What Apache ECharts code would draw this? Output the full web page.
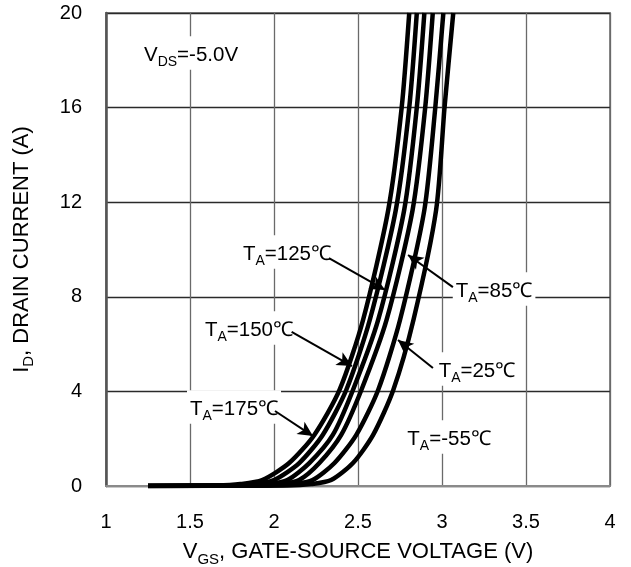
<!DOCTYPE html>
<html>
<head>
<meta charset="utf-8">
<script src="https://cdn.jsdelivr.net/npm/echarts@6/dist/echarts.min.js"></script>
<style>
  html, body { margin: 0; padding: 0; background: #fff; }
  #chart { width: 631px; height: 567px; }
</style>
</head>
<body>
<div id="chart"></div>
<script>
// ---- data ----
var X_TICKS = [1, 1.5, 2, 2.5, 3, 3.5, 4];
var Y_TICKS = [0, 4, 8, 12, 16, 20];
// drain current levels (A) at which each curve's gate voltage was read
var I_LEVELS = [0, 0.02, 0.08, 0.25, 0.97, 2.16, 4.06, 7.02, 11.67, 16, 20];
// gate-source voltage (V) of each curve at those current levels
var V_175 = [1.25, 1.66, 1.80, 1.93, 2.09, 2.24, 2.39, 2.53, 2.68, 2.76, 2.805];
var V_150 = [1.25, 1.74, 1.89, 2.00, 2.15, 2.29, 2.43, 2.57, 2.725, 2.805, 2.85];
var V_125 = [1.25, 1.82, 1.97, 2.08, 2.21, 2.35, 2.47, 2.62, 2.775, 2.85, 2.895];
var V_85 = [1.25, 1.90, 2.04, 2.15, 2.27, 2.40, 2.52, 2.67, 2.825, 2.90, 2.945];
var V_25 = [1.25, 1.98, 2.12, 2.23, 2.36, 2.49, 2.62, 2.75, 2.895, 2.96, 3.008];
var V_M55 = [1.25, 2.08, 2.22, 2.34, 2.47, 2.59, 2.71, 2.83, 2.965, 3.015, 3.067];
var CURVE_NAMES = ['175', '150', '125', '85', '25', '-55'];

// annotation text + anchor (data coords)
var NOTE_TEXT = ['{t|V}{s|DS}{t|=-5.0V}', '{t|T}{s|A}{t|=175℃}', '{t|T}{s|A}{t|=150℃}', '{t|T}{s|A}{t|=125℃}',
                 '{t|T}{s|A}{t|=85℃}', '{t|T}{s|A}{t|=25℃}', '{t|T}{s|A}{t|=-55℃}'];
var NOTE_V = [1.506, 1.762, 1.851, 2.077, 3.310, 3.208, 3.042];
var NOTE_I = [18.31, 3.34, 6.68, 9.89, 8.33, 4.95, 2.07];
// arrows: start (V,I) -> tip (V,I)
var ARROW_V0 = [2.006, 2.105, 2.327, 3.065, 2.946];
var ARROW_I0 = [3.17, 6.52, 9.64, 8.41, 4.99];
var ARROW_V1 = [2.232, 2.464, 2.661, 2.798, 2.738];
var ARROW_I1 = [2.11, 5.07, 8.29, 9.77, 6.17];

// ---- build ----
var FONT = 'Liberation Sans, Arial, sans-serif';
var curves = [V_175, V_150, V_125, V_85, V_25, V_M55];
function makeRich(size) {
  return {
    t: { fontSize: size, fontFamily: FONT, color: '#000', lineHeight: size + 3 },
    s: { fontSize: Math.round(size * 0.7), fontFamily: FONT, color: '#000', lineHeight: 15, padding: [15, 0, 0, 0] }
  };
}

var series = curves.map(function (vs, k) {
  return {
    name: CURVE_NAMES[k],
    type: 'line',
    data: vs.map(function (v, i) { return [v, I_LEVELS[i]]; }),
    showSymbol: false,
    smooth: 0.25,
    lineStyle: { color: '#000', width: 4.5 },
    z: 3,
    silent: true
  };
});

var arrowData = ARROW_V0.map(function (v, i) {
  return [{ coord: [v, ARROW_I0[i]] }, { coord: [ARROW_V1[i], ARROW_I1[i]] }];
});
series.push({
  type: 'line',
  data: [],
  silent: true,
  markLine: {
    silent: true,
    symbol: ['none', 'arrow'],
    symbolSize: [11, 15],
    label: { show: false },
    lineStyle: { color: '#000', width: 2, type: 'solid', opacity: 1 },
    emphasis: { disabled: true },
    data: arrowData,
    animation: false
  },
  z: 5
});

series.push({
  type: 'scatter',
  silent: true,
  symbol: 'circle',
  symbolSize: 1,
  itemStyle: { color: '#fff', opacity: 1 },
  data: NOTE_V.map(function (v, i) { return [v, NOTE_I[i], i]; }),
  label: {
    show: true,
    position: 'inside',
    align: 'center',
    verticalAlign: 'middle',
    color: '#000',
    opacity: 1,
    textBorderWidth: 0,
    backgroundColor: '#fff',
    padding: [7, 3, 3, 3],
    formatter: function (p) { return NOTE_TEXT[p.data[2]]; },
    rich: makeRich(20.5)
  },
  emphasis: { disabled: true },
  z: 4
});

var chart = echarts.init(document.getElementById('chart'), null, { renderer: 'canvas' });
chart.setOption({
  animation: false,
  backgroundColor: '#fff',
  textStyle: { fontFamily: FONT, color: '#000' },
  grid: { left: 106, right: 21, top: 13, bottom: 81, containLabel: false, outerBoundsMode: 'none',
          show: true, borderColor: '#8a8a8a', borderWidth: 2, backgroundColor: 'transparent' },
  xAxis: {
    type: 'value',
    min: X_TICKS[0], max: X_TICKS[X_TICKS.length - 1], interval: X_TICKS[1] - X_TICKS[0],
    name: '{t|V}{s|GS}{t|, GATE-SOURCE VOLTAGE (V)}',
    nameLocation: 'middle', nameGap: 41,
    nameTextStyle: { rich: makeRich(22) },
    axisLine: { show: true, lineStyle: { color: '#8a8a8a', width: 2 } },
    axisTick: { show: false },
    axisLabel: { color: '#000', fontSize: 20, fontFamily: FONT, margin: 26 },
    splitLine: { show: true, lineStyle: { color: '#6a6a6a', width: 1.3 } }
  },
  yAxis: {
    type: 'value',
    min: Y_TICKS[0], max: Y_TICKS[Y_TICKS.length - 1], interval: Y_TICKS[1] - Y_TICKS[0],
    name: '{t|I}{s|D}{t|, DRAIN CURRENT (A)}',
    nameLocation: 'middle', nameGap: 72, nameRotate: 90,
    nameTextStyle: { rich: makeRich(22) },
    axisLine: { show: true, lineStyle: { color: '#555', width: 2.5 } },
    axisTick: { show: false },
    axisLabel: { color: '#000', fontSize: 20, fontFamily: FONT, margin: 24 },
    splitLine: { show: true, lineStyle: { color: '#2a2a2a', width: 1.3 } }
  },
  series: series
});
</script>
</body>
</html>
